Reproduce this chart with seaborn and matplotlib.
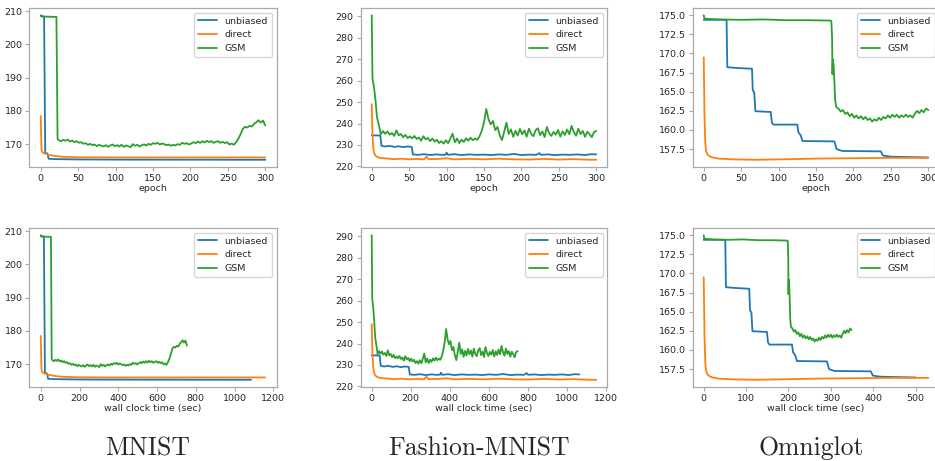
### training curves: 3 datasets x (epoch, wall clock)
import numpy as np
import matplotlib.pyplot as plt
from matplotlib.ticker import MaxNLocator
import seaborn as sns

### values (x = epoch)
# MNIST
mnist_unbiased_ep = [0, 4.5, 6, 9, 10.5, 20, 50, 100, 300]
mnist_unbiased_val = [208.6, 208.4, 167.3, 167.2, 165.6, 165.5, 165.4, 165.35, 165.3]
mnist_direct_ep = [0, 1, 2, 5, 10, 20, 30, 50, 100, 300]
mnist_direct_val = [178.5, 168.5, 167.6, 167.2, 166.8, 166.4, 166.2, 166.05, 166.0, 166.0]
mnist_gsm_ep = [0, 1, 21, 22.5] + list(np.arange(24, 301, 3))
mnist_gsm_val = [208.8, 208.4, 208.3, 171.5,
    171.2, 170.9, 171.3, 171.0, 171.4, 170.8, 171.1, 170.6, 170.9, 170.4,
    170.6, 170.1, 170.3, 169.8, 170.1, 169.7, 169.9, 169.4, 169.8, 169.5,
    169.3, 169.7, 169.2, 169.6, 169.9, 169.4, 169.7, 169.3, 169.8, 169.2,
    169.6, 169.4, 169.1, 170.0, 169.5, 169.8, 169.3, 169.7, 169.9, 169.6,
    170.1, 169.8, 170.3, 170.1, 170.4, 169.9, 170.2, 170.0, 169.7, 169.9,
    169.5, 169.8, 169.6, 170.0, 169.8, 170.4, 170.1, 170.3, 169.9, 170.2,
    170.6, 170.3, 170.8, 170.4, 170.9, 170.5, 171.0, 170.6, 170.9, 170.4,
    170.7, 170.9, 170.4, 170.7, 170.3, 170.6, 169.9, 170.2, 169.8, 170.6,
    171.6, 173.0, 174.6, 175.2, 175.0, 175.5, 175.3, 176.1, 176.6, 177.2,
    176.5, 177.1, 175.6]
mnist_wall_end = [1085, 1158, 754]  # unbiased, direct, GSM (sec at epoch 300)

# Fashion-MNIST
fmnist_unbiased_ep = [0, 11.5, 13, 18, 24, 30, 36, 42, 48, 53.5, 55, 62, 70, 78, 86, 94, 99, 100,
                      102, 110, 120, 130, 140, 150, 160, 170, 180, 190, 200, 210, 220, 224, 226,
                      235, 245, 255, 265, 275, 285, 293, 300]
fmnist_unbiased_val = [234.5, 234.4, 229.6, 229.3, 229.6, 229.1, 229.4, 229.0, 229.3, 229.1,
                       225.6, 225.4, 225.7, 225.3, 225.6, 225.4, 225.5, 226.4, 225.4, 225.7,
                       225.3, 225.6, 225.4, 225.5, 225.3, 225.6, 225.4, 225.8, 225.3, 225.5,
                       225.4, 226.2, 225.4, 225.6, 225.3, 225.5, 225.4, 225.6, 225.3, 225.7, 225.6]
fmnist_direct_ep = [0, 1, 2, 3, 5, 8, 12, 20, 30, 40, 50, 60, 70, 73, 76, 90, 100, 110, 130, 150,
                    170, 190, 210, 230, 250, 270, 290, 300]
fmnist_direct_val = [249.0, 235.0, 229.0, 226.5, 225.0, 224.3, 223.9, 223.7, 223.4, 223.6,
                     223.3, 223.5, 223.3, 224.5, 223.4, 223.5, 223.8, 223.3, 223.5, 223.3,
                     223.6, 223.3, 223.2, 223.5, 223.2, 223.4, 223.1, 223.1]
fmnist_gsm_ep = [0, 1, 3, 5, 7, 9, 11, 12] + list(np.arange(15, 301, 3))
fmnist_gsm_val = [290.5, 261.0, 257.0, 251.0, 243.0, 240.0, 237.0, 235.0,
    236.5, 235.2, 236.3, 234.8, 235.6, 234.2, 236.8, 234.5, 235.1, 233.6,
    234.7, 233.2, 234.0, 233.1, 234.2, 232.8, 233.5, 232.0, 234.1, 232.6,
    233.3, 231.8, 233.0, 231.6, 232.4, 230.9, 231.8, 230.6, 232.2, 230.8,
    232.9, 235.3, 231.2, 233.0, 230.9, 232.5, 231.4, 233.1, 232.0, 233.4,
    232.2, 233.0, 232.4, 234.0, 236.6, 240.5, 246.8, 242.0, 239.6, 241.2,
    236.9, 238.4, 234.5, 232.3, 236.2, 240.4, 235.1, 237.3, 233.8, 236.6,
    234.4, 237.5, 235.0, 236.8, 233.9, 237.6, 235.2, 234.1, 236.9, 237.8,
    234.6, 236.3, 233.7, 238.4, 235.5, 234.2, 236.1, 234.8, 237.0, 233.9,
    236.4, 234.7, 237.2, 235.0, 238.9, 236.0, 234.3, 237.6, 235.1, 236.5,
    233.8, 236.2, 235.0, 233.6, 236.0, 236.5]
fmnist_wall_end = [1063, 1150, 747]

# Omniglot
omni_unbiased_ep = [0, 30.5, 31.5, 45, 64.5, 65.5, 67.5, 69, 89.5, 91, 93, 125, 126.5, 129.5,
                    132, 174.5, 177.5, 185, 236.5, 239.5, 250, 300]
omni_unbiased_val = [174.4, 174.4, 168.2, 168.1, 168.0, 165.2, 164.9, 162.45, 162.35, 161.0,
                     160.7, 160.7, 159.7, 159.3, 158.55, 158.5, 157.5, 157.25, 157.2, 156.65,
                     156.5, 156.4]
omni_direct_ep = [0, 1, 2, 3, 5, 8, 12, 20, 40, 70, 100, 150, 200, 250, 300]
omni_direct_val = [169.5, 162.0, 158.5, 157.3, 156.8, 156.55, 156.4, 156.25, 156.15, 156.1,
                   156.15, 156.25, 156.3, 156.35, 156.35]
omni_gsm_ep = [0, 1, 20, 50, 80, 110, 140, 169, 170.5, 171.5, 172, 172.5, 173.5, 174.5, 175.5,
               177] + list(np.arange(180, 301, 3))
omni_gsm_val = [175.0, 174.55, 174.45, 174.4, 174.45, 174.35, 174.35, 174.3, 174.25, 172.0,
    167.3, 169.2, 168.5, 166.5, 164.0, 163.0,
    162.8, 162.4, 162.6, 162.1, 162.3, 161.8, 162.1, 161.6, 161.9, 161.5,
    161.8, 161.4, 161.7, 161.3, 161.5, 161.1, 161.4, 161.2, 161.6, 161.3,
    161.7, 161.5, 161.9, 161.6, 162.0, 161.7, 162.0, 161.6, 161.9, 161.7,
    162.0, 161.7, 161.9, 161.6, 162.1, 162.5, 162.2, 162.6, 162.3, 162.8, 162.6]
omni_wall_end = [500, 530, 349]

labels = ["unbiased", "direct", "GSM"]
titles = ["MNIST", "Fashion-MNIST", "Omniglot"]
colors = sns.color_palette("tab10")[:3]

datasets = [
    [(mnist_unbiased_ep, mnist_unbiased_val), (mnist_direct_ep, mnist_direct_val),
     (mnist_gsm_ep, mnist_gsm_val), mnist_wall_end],
    [(fmnist_unbiased_ep, fmnist_unbiased_val), (fmnist_direct_ep, fmnist_direct_val),
     (fmnist_gsm_ep, fmnist_gsm_val), fmnist_wall_end],
    [(omni_unbiased_ep, omni_unbiased_val), (omni_direct_ep, omni_direct_val),
     (omni_gsm_ep, omni_gsm_val), omni_wall_end],
]

### style
fs = 6.8
sns.set_style("white", {"axes.edgecolor": "#aaaaaa", "xtick.bottom": True, "ytick.left": True,
                        "xtick.color": "#aaaaaa", "ytick.color": "#aaaaaa"})
plt.rcParams["font.family"] = "DejaVu Sans"

W, H = 935, 461
fig = plt.figure(figsize=(W / 100, H / 100), dpi=100)
col_left = [29.5, 360.5, 692.5]
row_top = [8, 228]
ax_w, ax_h = 247, 159

for c, data in enumerate(datasets):
    wall_end = data[3]
    for r in range(2):
        ax = fig.add_axes([col_left[c] / W, 1 - (row_top[r] + ax_h) / H, ax_w / W, ax_h / H])
        for k in range(3):
            ep, val = data[k]
            ep = np.asarray(ep, dtype=float)
            x = ep if r == 0 else ep * wall_end[k] / 300.0
            sns.lineplot(x=x, y=val, ax=ax, color=colors[k], lw=1.3, label=labels[k],
                         estimator=None, sort=False)
        ax.yaxis.set_major_locator(MaxNLocator(nbins=9, steps=[1, 2, 2.5, 5, 10]))
        ax.set_xlabel("epoch" if r == 0 else "wall clock time (sec)", fontsize=fs,
                      color="#262626", labelpad=1)
        ax.set_ylabel("")
        ax.tick_params(labelsize=fs, labelcolor="#262626", length=3, width=0.8, pad=2)
        for sp in ax.spines.values():
            sp.set_linewidth(0.9)
        ax.legend(loc="upper right", fontsize=fs)
    fig.text([148, 479, 811][c] / W, 1 - 455 / H, titles[c], fontfamily="cmr10",
             fontsize=18.5, ha="center", va="baseline")

plt.savefig("out.png", dpi=100)
